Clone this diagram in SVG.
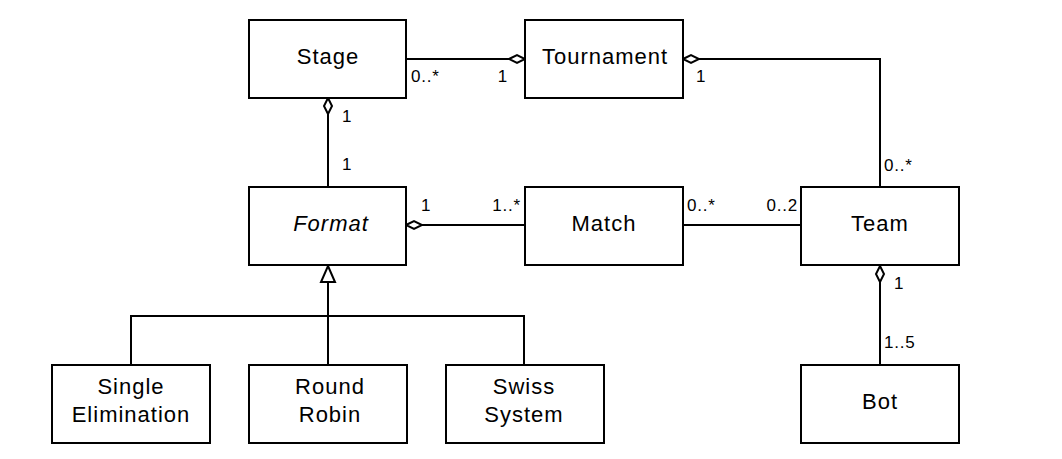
<svg xmlns="http://www.w3.org/2000/svg" width="1062" height="459" viewBox="0 0 1062 459">
<style>
.box{fill:#fff;stroke:#000;stroke-width:2}
.lbl{font-family:"Liberation Sans",Arial,sans-serif;font-size:22px;letter-spacing:1px;text-anchor:middle;fill:#000}
.m{font-family:"Liberation Sans",Arial,sans-serif;font-size:17px;letter-spacing:0.8px;fill:#000}
.ln{fill:none;stroke:#000;stroke-width:2}
.dia{fill:#fff;stroke:#000;stroke-width:2}
</style>
<rect width="1062" height="459" fill="#fff"/>
<g id="connectors">
<path class="ln" d="M407 59 H509"/>
<path class="dia" d="M509 59 L517 55 L525 59 L517 63 Z"/>
<path class="ln" d="M699 59 H880 V186"/>
<path class="dia" d="M683 59 L691 55 L699 59 L691 63 Z"/>
<path class="ln" d="M328 114 V186"/>
<path class="dia" d="M328 98 L332 106 L328 114 L324 106 Z"/>
<path class="ln" d="M422 225 H525"/>
<path class="dia" d="M406 225 L414 221 L422 225 L414 229 Z"/>
<path class="ln" d="M683 225 H801"/>
<path class="ln" d="M880 282 V364"/>
<path class="dia" d="M880 266 L884 274 L880 282 L876 274 Z"/>
<path class="ln" d="M328 282 V364 M131 364 V316 H524 V364"/>
<path class="dia" d="M328 266 L335 282 L321 282 Z"/>
<text class="m" x="411" y="82">0..*</text>
<text class="m" x="508" y="82" text-anchor="end">1</text>
<text class="m" x="696" y="82">1</text>
<text class="m" x="342" y="122">1</text>
<text class="m" x="342" y="170">1</text>
<text class="m" x="884" y="171">0..*</text>
<text class="m" x="421" y="211">1</text>
<text class="m" x="521" y="211" text-anchor="end">1..*</text>
<text class="m" x="687" y="211">0..*</text>
<text class="m" x="798" y="211" text-anchor="end">0..2</text>
<text class="m" x="894" y="289">1</text>
<text class="m" x="884" y="348">1..5</text>
</g>
<g id="stage"><rect class="box" x="249" y="20" width="157" height="78"/><text class="lbl" x="328" y="64">Stage</text></g>
<g id="tournament"><rect class="box" x="525" y="20" width="158" height="78"/><text class="lbl" x="605" y="64">Tournament</text></g>
<g id="format"><rect class="box" x="249" y="187" width="157" height="78"/><text class="lbl" x="331" y="231" font-style="italic">Format</text></g>
<g id="match"><rect class="box" x="525" y="187" width="158" height="78"/><text class="lbl" x="604" y="231">Match</text></g>
<g id="team"><rect class="box" x="801" y="187" width="158" height="78"/><text class="lbl" x="880" y="231">Team</text></g>
<g id="bot"><rect class="box" x="801" y="365" width="158" height="78"/><text class="lbl" x="880" y="409">Bot</text></g>
<g id="single-elimination"><rect class="box" x="52" y="365" width="158" height="78"/><text class="lbl" x="131" y="394">Single</text><text class="lbl" x="131" y="422">Elimination</text></g>
<g id="round-robin"><rect class="box" x="249" y="365" width="158" height="78"/><text class="lbl" x="330" y="394">Round</text><text class="lbl" x="330" y="422">Robin</text></g>
<g id="swiss-system"><rect class="box" x="446" y="365" width="158" height="78"/><text class="lbl" x="524" y="394">Swiss</text><text class="lbl" x="524" y="422">System</text></g>
</svg>
